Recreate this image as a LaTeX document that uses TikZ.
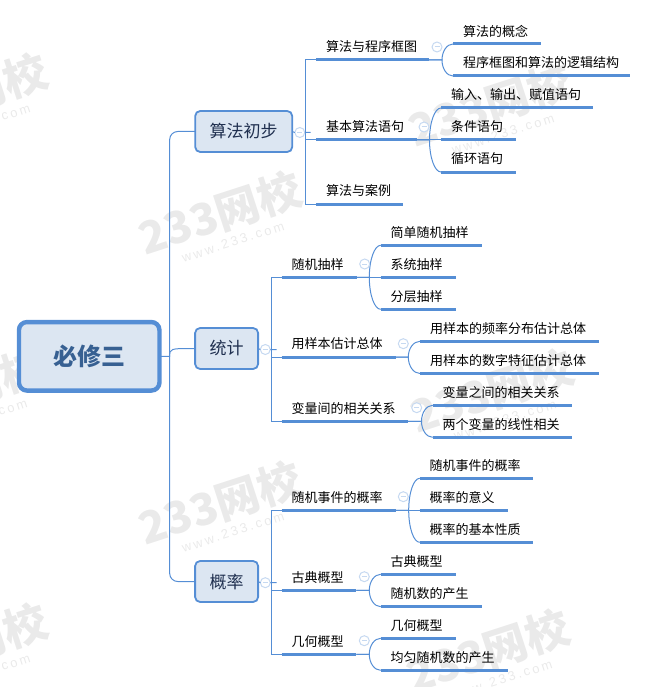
\documentclass[tikz,border=0pt]{standalone}
\usepackage{fontspec}
\usetikzlibrary{calc}
\setmainfont{Noto Sans CJK SC}
\newfontfamily\wmlatin[LetterSpace=20]{Liberation Sans}
\definecolor{linec}{HTML}{558ED5}
\definecolor{fillc}{HTML}{DCE6F2}
\definecolor{circc}{HTML}{C6D9F1}
\definecolor{rootc}{HTML}{376092}
\definecolor{topc}{HTML}{1F2F4F}
\definecolor{wmc}{HTML}{EAEAEA}
\tikzset{
  conn/.style={draw=linec,line width=1pt},
  under/.style={draw=linec,line width=3pt},
  rootbox/.style={draw=linec,fill=fillc,line width=4.4pt,rounded corners=8pt,minimum width=140.5pt,minimum height=68.5pt,inner sep=0pt,outer sep=0pt,text=rootc,font=\fontsize{24}{28}\selectfont\bfseries},
  topicbox/.style={draw=linec,fill=fillc,line width=1.8pt,rounded corners=5pt,minimum height=41pt,inner sep=0pt,outer sep=0pt,text=topc,font=\fontsize{17}{20}\selectfont},
  leafnode/.style={anchor=south west,inner sep=0pt,outer sep=0pt,minimum height=26pt,align=left,font=\fontsize{13}{15}\selectfont},
  collapse/.style={circle,draw=circc,fill=white,line width=1pt,minimum size=10pt,inner sep=0pt,outer sep=0pt,
    path picture={\draw[circc,line width=1pt] ([xshift=2.5pt]path picture bounding box.west) -- ([xshift=-2.5pt]path picture bounding box.east);}},
  wmbig/.style={rotate=18,text=wmc,inner sep=0pt,font=\fontsize{44}{46}\selectfont\bfseries},
  wmsmall/.style={rotate=18,text=wmc,inner sep=0pt,font=\fontsize{13}{15}\selectfont\wmlatin},
}
% name, x0, width, y, text
\newcommand{\leaf}[5]{%
  \node[leafnode,text width=#3pt] (#1) at (#2,#4) {\hspace*{10pt}#5};
  \draw[under] (#1.south west) -- (#1.south east);}
% parent, child, horizontal run to junction
\newcommand{\kid}[3]{%
  \draw[conn] (#1.south east) -- ++(#3,0) coordinate (tmpj)
    .. controls ($(tmpj)!0.55!(tmpj |- #2.south west)$) and ($(tmpj |- #2.south west)!0.45!(#2.south west)$) .. (#2.south west);}
% name, x, y
\newcommand{\wmark}[3]{%
  \node[wmbig] (#1a) at (#2,#3) {233网校};
  \node[wmsmall] (#1b) at (#2+13,#3+29) {www.233.com};}
\begin{document}
\begin{tikzpicture}[x=1pt,y=-1pt]
\useasboundingbox (0,0) rectangle (650,687);
\begin{scope}
\clip (0,0) rectangle (650,687);
\wmark{wa}{-34}{95}
\wmark{wb}{-37}{390}
\wmark{wc}{-34}{645}
\wmark{wd}{220}{213}
\wmark{we}{220}{503}
\wmark{wf}{490}{105}
\wmark{wg}{492}{391}
\wmark{wh}{488}{651}
\end{scope}

% root and topics
\node[rootbox] (root) at (89.2,356.3) {必修三};
\node[topicbox,minimum width=97pt] (t1) at (243.7,131.5) {算法初步};
\node[topicbox,minimum width=63pt] (t2) at (226.6,348.5) {统计};
\node[topicbox,minimum width=63pt] (t3) at (226.6,581.5) {概率};
\coordinate (rj) at (169.7,356.3);
\draw[conn,rounded corners=8pt] (t1.west) -| (rj) |- (t3.west);
\draw[conn] (root.east) -- (rj) .. controls (rj |- t2.west) and (rj |- t2.west) .. (t2.west);

% group 1
\leaf{a}{316}{113}{60}{算法与程序框图}
\leaf{b}{316}{101}{140}{基本算法语句}
\leaf{c}{316}{87}{204}{算法与案例}
\leaf{a1}{453}{88}{44}{算法的概念}
\leaf{a2}{453}{177}{76}{程序框图和算法的逻辑结构}
\leaf{b1}{441}{152}{108}{输入、输出、赋值语句}
\leaf{b2}{441}{75}{140}{条件语句}
\leaf{b3}{441}{75}{172}{循环语句}
\draw[conn] (a.south west) -- ++(-10.5,0) |- (c.south west);
\draw[conn] (b.south west) -- ++(-10.5,0);
\kid{a}{a1}{13}\kid{a}{a2}{13}
\draw[conn] (b.south east) -- (b2.south west);
\kid{b}{b1}{12.5}\kid{b}{b3}{12.5}

% group 2
\leaf{d}{281.6}{75}{277.3}{随机抽样}
\leaf{e}{281.6}{114}{357}{用样本估计总体}
\leaf{f}{281.6}{126.4}{421.3}{变量间的相关关系}
\leaf{d1}{380.7}{101}{245.3}{简单随机抽样}
\leaf{d2}{380.7}{75}{277.3}{系统抽样}
\leaf{d3}{380.7}{75}{309.3}{分层抽样}
\leaf{e1}{420}{178.7}{341.3}{用样本的频率分布估计总体}
\leaf{e2}{420}{178.7}{373.5}{用样本的数字特征估计总体}
\leaf{f1}{432.7}{139.6}{405.3}{变量之间的相关关系}
\leaf{f2}{432.7}{139.6}{437.3}{两个变量的线性相关}
\draw[conn] (d.south west) -- ++(-10.3,0) |- (f.south west);
\draw[conn] (e.south west) -- ++(-10.3,0);
\draw[conn] (d.south east) -- (d2.south west);
\kid{d}{d1}{12.7}\kid{d}{d3}{12.7}
\kid{e}{e1}{12.7}\kid{e}{e2}{12.7}
\kid{f}{f1}{13.5}\kid{f}{f2}{13.5}

% group 3
\leaf{g}{281.7}{114}{510.3}{随机事件的概率}
\leaf{h}{281.7}{74.6}{590.3}{古典概型}
\leaf{i}{281.7}{74.6}{654.3}{几何概型}
\leaf{g1}{419.7}{113.6}{478.3}{随机事件的概率}
\leaf{g2}{419.7}{88}{510.3}{概率的意义}
\leaf{g3}{419.7}{113.6}{542.3}{概率的基本性质}
\leaf{h1}{380.7}{75}{574.3}{古典概型}
\leaf{h2}{380.7}{101}{606.7}{随机数的产生}
\leaf{i1}{380.7}{75}{638.3}{几何概型}
\leaf{i2}{380.7}{127}{670.3}{均匀随机数的产生}
\draw[conn] (g.south west) -- ++(-10.4,0) |- (i.south west);
\draw[conn] (h.south west) -- ++(-10.4,0);
\draw[conn] (g.south east) -- (g2.south west);
\kid{g}{g1}{13}\kid{g}{g3}{13}
\kid{h}{h1}{13}\kid{h}{h2}{13}
\kid{i}{i1}{13}\kid{i}{i2}{13}

% collapse markers
\node[collapse] (ct1) at (299.8,132.5) {};
\node[collapse] (ct2) at (265.3,349.5) {};
\node[collapse] (ct3) at (265.3,582.7) {};
\draw[conn] (t1.east) -- (ct1.west) (ct1.east) -- ++(5.7,0);
\draw[conn] (t2.east) -- (ct2.west) (ct2.east) -- ++(6.2,0);
\draw[conn] (t3.east) -- (ct3.west) (ct3.east) -- ++(6.2,0);
\node[collapse] (ca) at (437,47) {};
\node[collapse] (cb) at (424,127) {};
\node[collapse] (cd) at (364.7,264) {};
\node[collapse] (ce) at (403.3,343.7) {};
\node[collapse] (cf) at (416.7,407.7) {};
\node[collapse] (cg) at (403.3,496.7) {};
\node[collapse] (ch) at (364.3,576.7) {};
\node[collapse] (ci) at (364.3,640.7) {};
\end{tikzpicture}
\end{document}
